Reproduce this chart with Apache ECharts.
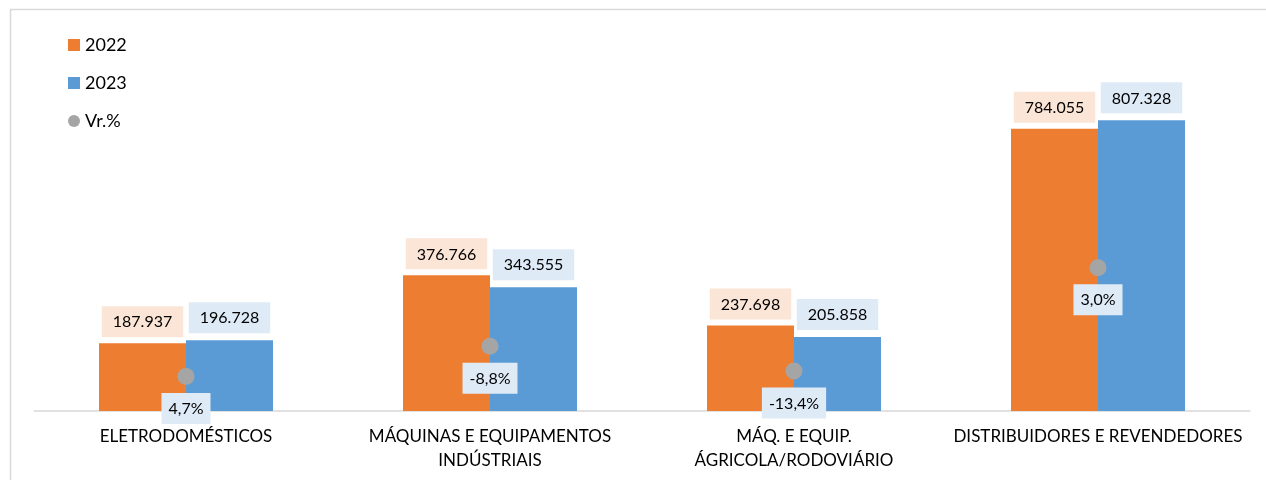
<!DOCTYPE html>
<html>
<head>
<meta charset="utf-8">
<script src="https://cdn.jsdelivr.net/npm/echarts@6/dist/echarts.min.js"></script>
<style>
  html, body { margin: 0; padding: 0; background: #fff; }
  #main { width: 1266px; height: 480px; }
</style>
</head>
<body>
<div id="main"></div>
<script>
  var categories = ['ELETRODOMÉSTICOS', 'MÁQUINAS E EQUIPAMENTOS\nINDÚSTRIAIS', 'MÁQ. E EQUIP.\nÁGRICOLA/RODOVIÁRIO', 'DISTRIBUIDORES E REVENDEDORES'];
  var v2022 = [187937, 376766, 237698, 784055];
  var v2023 = [196728, 343555, 205858, 807328];
  var varPct = [4.7, -8.8, -13.4, 3.0];

  function fmtNum(n) {
    return String(n).replace(/\B(?=(\d{3})+(?!\d))/g, '.');
  }
  function fmtPct(p) {
    return p.toFixed(1).replace('.', ',') + '%';
  }

  // dots sit half way up the average of the two bars
  var dotPos = v2022.map(function (v, i) {
    return (v + v2023[i]) / 4;
  });

  var font = 'Lato, "Open Sans", sans-serif';
  var myChart = echarts.init(document.getElementById('main'));
  myChart.setOption({
    animation: false,
    textStyle: { fontFamily: font },
    graphic: [{
      type: 'rect',
      shape: { x: 10.5, y: 9.5, width: 1400, height: 600 },
      style: { fill: 'none', stroke: '#D9D9D9', lineWidth: 1.5 },
      silent: true
    }],
    legend: {
      orient: 'vertical',
      left: 63,
      top: 31,
      itemWidth: 12,
      itemHeight: 12,
      itemGap: 20,
      textStyle: { fontSize: 18, color: '#000', fontFamily: font },
      data: [
        { name: '2022', icon: 'rect' },
        { name: '2023', icon: 'rect' },
        { name: 'Vr.%', icon: 'circle', itemStyle: { color: '#A5A5A5', opacity: 1 } }
      ]
    },
    grid: { left: 34, right: 16, top: 51, bottom: 69 },
    xAxis: {
      type: 'category',
      data: categories,
      axisLine: { lineStyle: { color: '#D9D9D9', width: 1.5 } },
      axisTick: { show: false },
      axisLabel: {
        color: '#000',
        fontSize: 17,
        lineHeight: 24,
        margin: 14,
        fontFamily: font,
        interval: 0
      }
    },
    yAxis: {
      type: 'value',
      min: 0,
      max: 1000000,
      show: false,
      splitLine: { show: false }
    },
    series: [{
      name: '2022',
      type: 'bar',
      data: v2022,
      barWidth: 87,
      barGap: '0%',
      itemStyle: { color: '#ED7D31' },
      label: {
        show: true,
        position: 'top',
        distance: 6,
        color: '#000',
        fontSize: 16,
        fontFamily: font,
        backgroundColor: '#FBE5D6',
        padding: [8, 11, 7, 11],
        formatter: function (p) { return fmtNum(p.value); }
      }
    }, {
      name: '2023',
      type: 'bar',
      data: v2023,
      barWidth: 87,
      barGap: '0%',
      itemStyle: { color: '#5B9BD5' },
      label: {
        show: true,
        position: 'top',
        distance: 7,
        color: '#000',
        fontSize: 16,
        fontFamily: font,
        backgroundColor: '#DEEBF7',
        padding: [8, 11, 7, 11],
        formatter: function (p) { return fmtNum(p.value); }
      }
    }, {
      name: 'Vr.%',
      type: 'scatter',
      data: dotPos,
      symbol: 'circle',
      symbolSize: 17,
      z: 5,
      itemStyle: { color: '#A5A5A5', opacity: 1 },
      label: {
        show: true,
        position: 'bottom',
        distance: 8,
        color: '#000',
        fontSize: 16,
        fontFamily: font,
        backgroundColor: '#DEEBF7',
        padding: [8, 7, 7, 7],
        formatter: function (p) { return fmtPct(varPct[p.dataIndex]); }
      }
    }]
  });
</script>
</body>
</html>
